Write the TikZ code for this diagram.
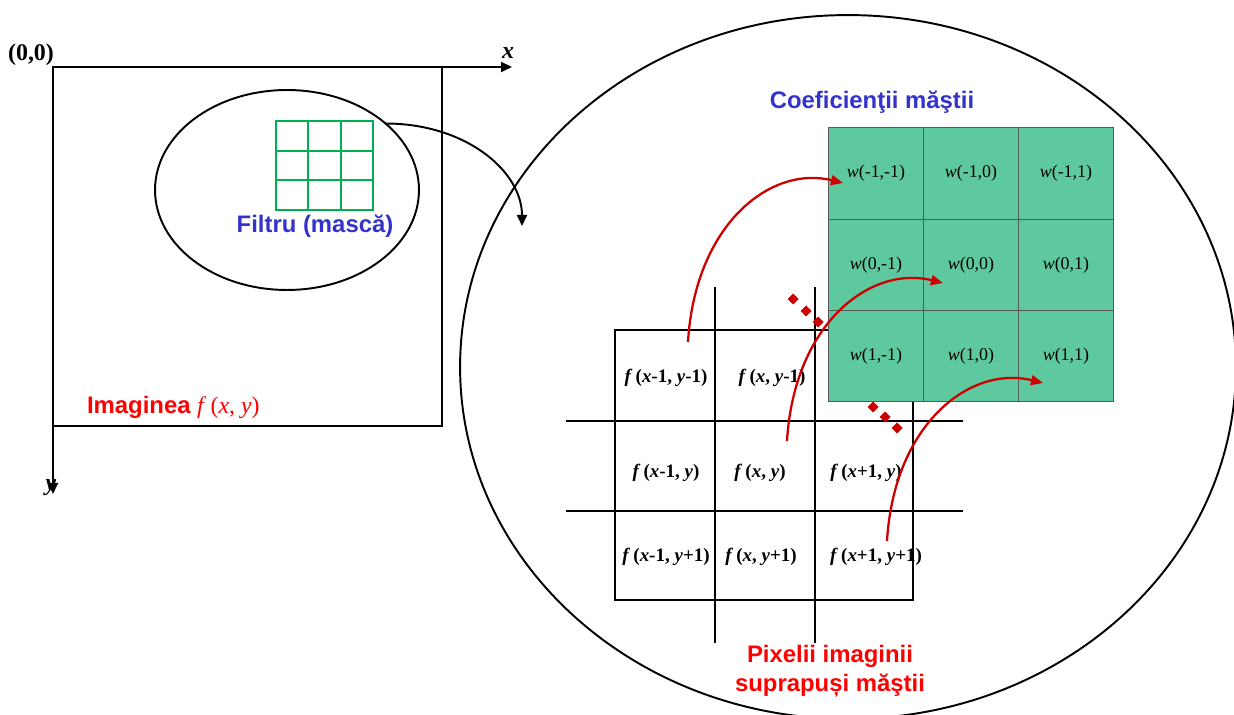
\documentclass[tikz,border=0pt]{standalone}
\usepackage{fontspec}
\setmainfont{Liberation Serif}
\setsansfont{Liberation Sans}
\usetikzlibrary{positioning,shapes.geometric,arrows.meta,calc}
\definecolor{maskgreen}{RGB}{94,201,158}
\definecolor{gridgreen}{RGB}{0,176,80}
\definecolor{labelblue}{RGB}{51,51,204}
\definecolor{labelred}{RGB}{255,0,0}
\definecolor{arrowred}{RGB}{204,0,0}
\begin{document}
\begin{tikzpicture}[x=0.02cm,y=-0.02cm,node distance=0pt,
    every node/.style={inner sep=0pt,outer sep=0pt},
    thickline/.style={line width=1.1pt},
    bluetitle/.style={text=labelblue,font=\sffamily\bfseries\fontsize{13.6}{16.4}\selectfont},
    redtitle/.style={text=labelred,font=\sffamily\bfseries\fontsize{13.6}{16.4}\selectfont,align=center},
    axislbl/.style={font=\bfseries\itshape\fontsize{13.6}{16.4}\selectfont},
    pixcell/.style={font=\bfseries\fontsize{10.8}{13}\selectfont},
    wcell/.style={draw=black!65,line width=0.6pt,fill=maskgreen,minimum width=1.9cm,minimum height=1.827cm,font=\fontsize{10.2}{12}\selectfont},
    mapto/.style={arrowred,line width=1.3pt,-{Triangle[length=0.24cm,width=0.2cm]}},
    blackto/.style={thickline,-{Triangle[length=0.22cm,width=0.2cm]}}]
    \useasboundingbox (0,0) rectangle (1234,715);
    % image with axes
    \coordinate (origin) at (53,67);
    \coordinate (xtip) at (512,67);
    \coordinate (ytip) at (53,494);
    \coordinate (imgcorner) at (442,426);
    \node[font=\bfseries\fontsize{13.6}{16.4}\selectfont] (orig) at (31,55) {(0,0)};
    \node[axislbl] (xlbl) at (508,53) {x};
    \node[axislbl] (ylbl) at (51,488) {y};
    \draw[blackto] (origin) -- (xtip);
    \draw[blackto] (origin) -- (ytip);
    \draw[thickline] (origin) rectangle (imgcorner);
    \node[anchor=west,text=labelred,font=\fontsize{13.6}{16.4}\selectfont] (imglbl) at (87,407) {\sffamily\bfseries Imaginea \rmfamily\mdseries\textit{f}\,(\textit{x}, \textit{y})};
    % filter on the image
    \node[draw,ellipse,thickline,minimum width=5.28cm,minimum height=4cm] (filter) at (287,190) {};
    \node[draw=gridgreen,thickline,minimum width=1.94cm,minimum height=1.78cm] (mini) at (324.5,165.5) {};
    \foreach \i in {1,2} {
        \draw[gridgreen,thickline] ($(mini.north west)!\i/3!(mini.north east)$) -- ($(mini.south west)!\i/3!(mini.south east)$);
        \draw[gridgreen,thickline] ($(mini.north west)!\i/3!(mini.south west)$) -- ($(mini.north east)!\i/3!(mini.south east)$);
    }
    \node[bluetitle] (filtlbl) at (315,226) {Filtru (mască)};
    % enlarged view
    \node[draw,ellipse,thickline,minimum width=15.52cm,minimum height=14.08cm] (bigview) at (848,367) {};
    \coordinate (drop) at (522,226);
    \draw[blackto] (filter.34) .. controls +(80,0) and +(0,-55) .. (drop);
    % pixels under the mask
    \draw[thickline] (615,330) rectangle (913,600);
    \draw[thickline] (715,287) -- (715,643) (815,287) -- (815,643);
    \draw[thickline] (566,421) -- (963,421) (566,511) -- (963,511);
    \node[pixcell] (p11) at (666,378) {\textit{f}\,(\textit{x}-1, \textit{y}-1)};
    \node[pixcell] (p12) at (772,378) {\textit{f}\,(\textit{x}, \textit{y}-1)};
    \node[pixcell] (p21) at (666,473) {\textit{f}\,(\textit{x}-1, \textit{y})};
    \node[pixcell] (p22) at (760,473) {\textit{f}\,(\textit{x}, \textit{y})};
    \node[pixcell] (p23) at (866,473) {\textit{f}\,(\textit{x}+1, \textit{y})};
    \node[pixcell] (p31) at (666,557) {\textit{f}\,(\textit{x}-1, \textit{y}+1)};
    \node[pixcell] (p32) at (761,557) {\textit{f}\,(\textit{x}, \textit{y}+1)};
    \node[pixcell] (p33) at (876,557) {\textit{f}\,(\textit{x}+1, \textit{y}+1)};
    \node[redtitle] (pixlbl) at (830,671) {Pixelii imaginii\\suprapuși măştii};
    % mask coefficients
    \node[bluetitle] (coeflbl) at (872,102) {Coeficienţii măştii};
    \node[wcell] (w11) at (876,173.5) {\textit{w}(-1,-1)};
    \node[wcell,right=of w11] (w12) {\textit{w}(-1,0)};
    \node[wcell,right=of w12] (w13) {\textit{w}(-1,1)};
    \node[wcell,below=of w11] (w21) {\textit{w}(0,-1)};
    \node[wcell,right=of w21] (w22) {\textit{w}(0,0)};
    \node[wcell,right=of w22] (w23) {\textit{w}(0,1)};
    \node[wcell,below=of w21] (w31) {\textit{w}(1,-1)};
    \node[wcell,right=of w31] (w32) {\textit{w}(1,0)};
    \node[wcell,right=of w32] (w33) {\textit{w}(1,1)};
    \foreach \p in {(793,299),(806,311),(818,322),(873,407),(885,417),(897,428)}
        \fill[arrowred] \p +(0,-5.5) -- +(5.5,0) -- +(0,5.5) -- +(-5.5,0) -- cycle;
    % pixel to coefficient
    \coordinate (s1) at (688,342);
    \coordinate (e1) at (843,183);
    \coordinate (s2) at (787,441);
    \coordinate (e2) at (943,283);
    \coordinate (s3) at (887,541);
    \coordinate (e3) at (1043,383);
    \draw[mapto] (s1) .. controls +(7,-117) and +(-73,-18) .. (e1);
    \draw[mapto] (s2) .. controls +(7,-117) and +(-73,-18) .. (e2);
    \draw[mapto] (s3) .. controls +(7,-117) and +(-73,-18) .. (e3);
\end{tikzpicture}
\end{document}
